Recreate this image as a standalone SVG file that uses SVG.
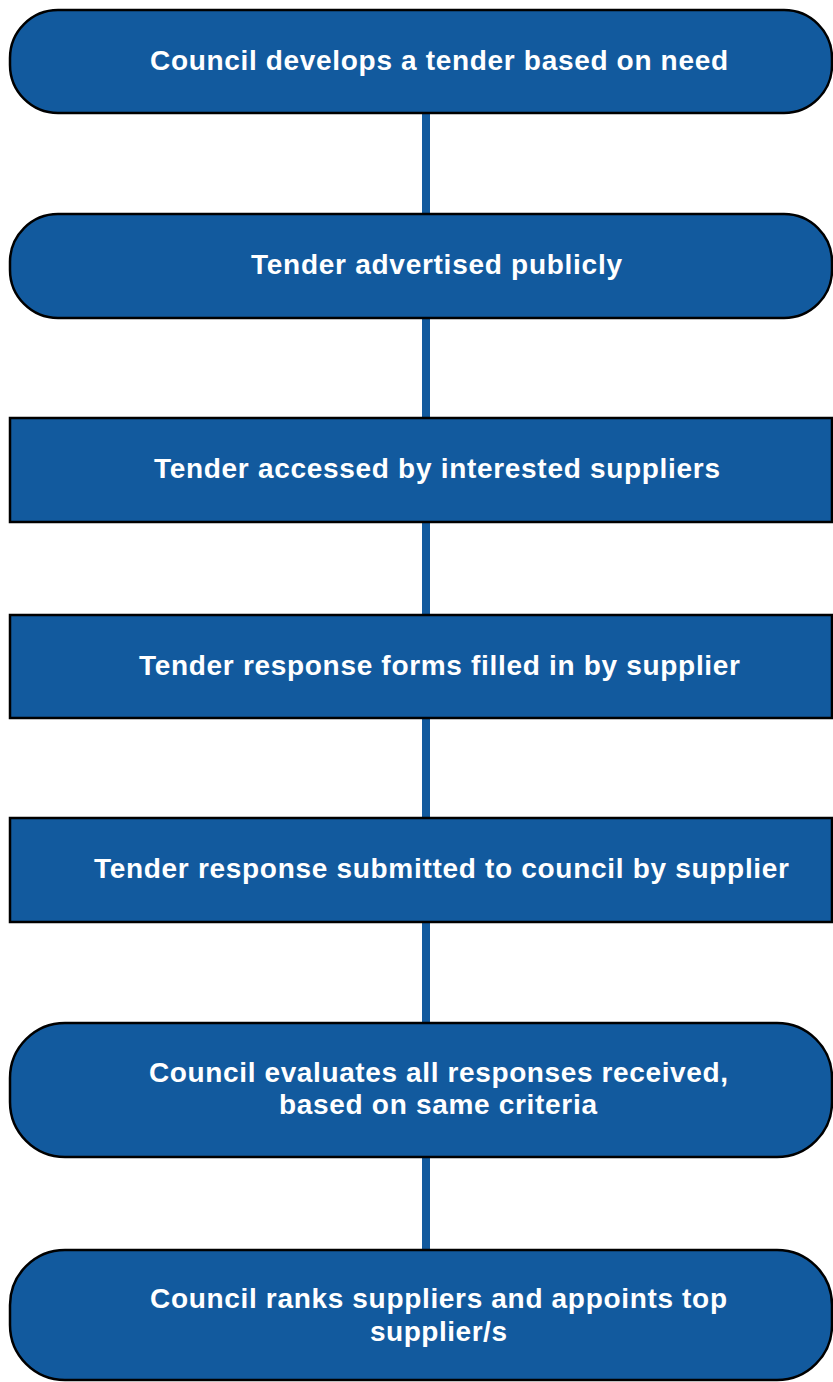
<svg xmlns="http://www.w3.org/2000/svg" width="833" height="1382" viewBox="0 0 833 1382">
<style>
.box{fill:#125A9E;stroke:#000;stroke-width:2.5}
.lbl{font-family:'Liberation Sans',Arial,Helvetica,sans-serif;font-weight:700;font-size:28px;fill:#fff;text-anchor:middle}
.con{stroke:#125A9E;stroke-width:8;fill:none}
</style>
<rect width="833" height="1382" fill="#fff"/>
<g id="connectors">
<line class="con" x1="426" y1="113" x2="426" y2="214"/>
<line class="con" x1="426" y1="318" x2="426" y2="418"/>
<line class="con" x1="426" y1="522" x2="426" y2="615"/>
<line class="con" x1="426" y1="718" x2="426" y2="818"/>
<line class="con" x1="426" y1="922" x2="426" y2="1023"/>
<line class="con" x1="426" y1="1157" x2="426" y2="1250"/>
</g>
<g id="n1"><rect class="box" x="10" y="10" width="822" height="103" rx="48" ry="48"/>
<text class="lbl" x="439" y="70" textLength="578" lengthAdjust="spacing">Council develops a tender based on need</text></g>
<g id="n2"><rect class="box" x="10" y="214" width="822" height="104" rx="48" ry="48"/>
<text class="lbl" x="436.5" y="274" textLength="371" lengthAdjust="spacing">Tender advertised publicly</text></g>
<g id="n3"><rect class="box" x="10" y="418" width="822" height="104"/>
<text class="lbl" x="437" y="478" textLength="566" lengthAdjust="spacing">Tender accessed by interested suppliers</text></g>
<g id="n4"><rect class="box" x="10" y="615" width="822" height="103"/>
<text class="lbl" x="439.5" y="675" textLength="601" lengthAdjust="spacing">Tender response forms filled in by supplier</text></g>
<g id="n5"><rect class="box" x="10" y="818" width="822" height="104"/>
<text class="lbl" x="441.5" y="878" textLength="695" lengthAdjust="spacing">Tender response submitted to council by supplier</text></g>
<g id="n6"><rect class="box" x="10" y="1023" width="822" height="134" rx="55" ry="55"/>
<text class="lbl" x="438.5" y="1082" textLength="579" lengthAdjust="spacing">Council evaluates all responses received,</text>
<text class="lbl" x="438" y="1114" textLength="318" lengthAdjust="spacing">based on same criteria</text></g>
<g id="n7"><rect class="box" x="10" y="1250" width="822" height="130" rx="55" ry="55"/>
<text class="lbl" x="438.5" y="1308" textLength="577" lengthAdjust="spacing">Council ranks suppliers and appoints top</text>
<text class="lbl" x="438.5" y="1341" textLength="137" lengthAdjust="spacing">supplier/s</text></g>
</svg>
